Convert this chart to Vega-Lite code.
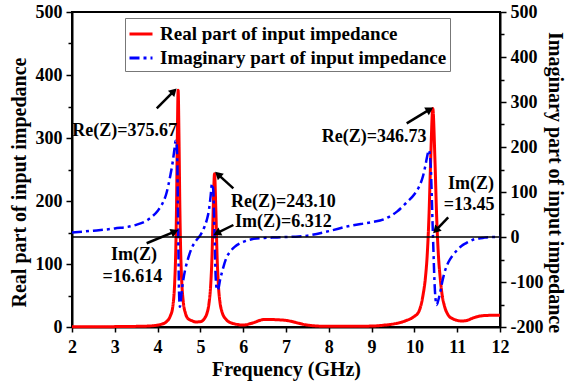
{
  "$schema": "https://vega.github.io/schema/vega-lite/v6.json",
  "width": 428,
  "height": 315,
  "autosize": {"type": "none"},
  "padding": {"left": 72, "top": 12, "right": 66, "bottom": 54},
  "background": "white",
  "config": {
    "view": {"stroke": "black", "strokeWidth": 2},
    "font": "Liberation Serif",
    "axis": {
      "domainColor": "black", "domainWidth": 2, "tickColor": "black", "tickWidth": 1.5,
      "labelFont": "Liberation Serif", "labelFontWeight": "bold", "labelFontSize": 18, "labelColor": "black",
      "titleFont": "Liberation Serif", "titleFontWeight": "bold", "titleFontSize": 20, "titleColor": "black",
      "grid": false, "labelOverlap": false, "labelFlush": false
    }
  },
  "datasets": {
    "z": [
      {"f": 2.0, "re": 0.5, "im": 10},
      {"f": 2.5, "re": 0.5, "im": 14},
      {"f": 3.0, "re": 0.6, "im": 19},
      {"f": 3.5, "re": 1, "im": 27},
      {"f": 3.8, "re": 1.6, "im": 40},
      {"f": 4.0, "re": 3, "im": 58},
      {"f": 4.1, "re": 4.6, "im": 72},
      {"f": 4.2, "re": 8, "im": 95},
      {"f": 4.3, "re": 18, "im": 138},
      {"f": 4.35, "re": 30, "im": 165},
      {"f": 4.4, "re": 72, "im": 200},
      {"f": 4.42, "re": 110, "im": 214},
      {"f": 4.44, "re": 180, "im": 210},
      {"f": 4.46, "re": 295, "im": 170},
      {"f": 4.48, "re": 375.67, "im": 16.614},
      {"f": 4.5, "re": 300, "im": -120},
      {"f": 4.52, "re": 190, "im": -155},
      {"f": 4.54, "re": 118, "im": -145},
      {"f": 4.56, "re": 78, "im": -125},
      {"f": 4.6, "re": 40, "im": -95},
      {"f": 4.65, "re": 22, "im": -70},
      {"f": 4.7, "re": 14, "im": -52},
      {"f": 4.8, "re": 10, "im": -24},
      {"f": 4.9, "re": 8, "im": -8},
      {"f": 5.0, "re": 8.5, "im": 4},
      {"f": 5.1, "re": 14, "im": 24},
      {"f": 5.15, "re": 21, "im": 38},
      {"f": 5.2, "re": 37, "im": 60},
      {"f": 5.24, "re": 66, "im": 92},
      {"f": 5.27, "re": 110, "im": 118},
      {"f": 5.3, "re": 188, "im": 105},
      {"f": 5.33, "re": 243.1, "im": 6.312},
      {"f": 5.36, "re": 188, "im": -95},
      {"f": 5.39, "re": 112, "im": -118},
      {"f": 5.42, "re": 67, "im": -115},
      {"f": 5.46, "re": 38, "im": -95},
      {"f": 5.5, "re": 25, "im": -80},
      {"f": 5.6, "re": 12, "im": -48},
      {"f": 5.7, "re": 7, "im": -32},
      {"f": 5.8, "re": 5, "im": -22},
      {"f": 6.0, "re": 3, "im": -11},
      {"f": 6.2, "re": 6, "im": -5},
      {"f": 6.5, "re": 12, "im": -2},
      {"f": 6.8, "re": 11.5, "im": -1},
      {"f": 7.0, "re": 10.5, "im": 0},
      {"f": 7.3, "re": 6, "im": 1},
      {"f": 7.5, "re": 3, "im": 3},
      {"f": 8.0, "re": 1, "im": 13},
      {"f": 8.5, "re": 1, "im": 25},
      {"f": 9.0, "re": 1.5, "im": 33},
      {"f": 9.3, "re": 3, "im": 40},
      {"f": 9.6, "re": 6, "im": 57},
      {"f": 9.8, "re": 10, "im": 75},
      {"f": 10.0, "re": 17, "im": 95},
      {"f": 10.1, "re": 24, "im": 110},
      {"f": 10.2, "re": 50, "im": 135},
      {"f": 10.26, "re": 80, "im": 160},
      {"f": 10.3, "re": 115, "im": 180},
      {"f": 10.34, "re": 175, "im": 193},
      {"f": 10.38, "re": 265, "im": 160},
      {"f": 10.43, "re": 346.73, "im": 13.45},
      {"f": 10.48, "re": 265, "im": -120},
      {"f": 10.52, "re": 175, "im": -151},
      {"f": 10.56, "re": 115, "im": -140},
      {"f": 10.6, "re": 80, "im": -124},
      {"f": 10.65, "re": 50, "im": -100},
      {"f": 10.7, "re": 34, "im": -80},
      {"f": 10.8, "re": 18, "im": -55},
      {"f": 10.9, "re": 13, "im": -40},
      {"f": 11.0, "re": 10.5, "im": -29},
      {"f": 11.1, "re": 9.5, "im": -20},
      {"f": 11.2, "re": 10, "im": -14},
      {"f": 11.4, "re": 15, "im": -5},
      {"f": 11.6, "re": 18, "im": -2},
      {"f": 11.8, "re": 18.5, "im": 0},
      {"f": 12.0, "re": 18.5, "im": 0}
    ],
    "arrows": [
      {"x1": 3.98, "y1": 347, "x2": 4.38, "y2": 374.4, "ang": 45},
      {"x1": 5.77, "y1": 220, "x2": 5.41, "y2": 242.2, "ang": 312},
      {"x1": 5.77, "y1": 161.9, "x2": 5.386, "y2": 148.9, "ang": 243.4},
      {"x1": 3.745, "y1": 132.9, "x2": 4.40, "y2": 151.4, "ang": 67.2},
      {"x1": 9.82, "y1": 323.3, "x2": 10.36, "y2": 345.4, "ang": 59},
      {"x1": 10.79, "y1": 174, "x2": 10.50, "y2": 153.3, "ang": 223.2}
    ],
    "notes": [
      {"tx": 3.23, "ty": 311.9, "t": "Re(Z)=375.67"},
      {"tx": 6.94, "ty": 198.4, "t": "Re(Z)=243.10"},
      {"tx": 6.94, "ty": 165.9, "t": "Im(Z)=6.312"},
      {"tx": 3.45, "ty": 115, "t": "Im(Z)"},
      {"tx": 3.41, "ty": 78.6, "t": "=16.614"},
      {"tx": 9.06, "ty": 302, "t": "Re(Z)=346.73"},
      {"tx": 11.32, "ty": 227, "t": "Im(Z)"},
      {"tx": 11.28, "ty": 193.7, "t": "=13.45"}
    ],
    "zero": [{"v": 0}]
  },
  "layer": [
    {
      "data": {"name": "z"},
      "mark": {"type": "line", "strokeWidth": 3, "interpolate": "monotone"},
      "encoding": {
        "x": {"field": "f", "type": "quantitative", "scale": {"domain": [2, 12], "nice": false},
          "axis": {"title": "Frequency (GHz)", "values": [2, 2.5, 3, 3.5, 4, 4.5, 5, 5.5, 6, 6.5, 7, 7.5, 8, 8.5, 9, 9.5, 10, 10.5, 11, 11.5, 12],
            "labelExpr": "datum.value % 1 === 0 ? '' + datum.value : ''",
            "tickSize": {"condition": {"test": "datum.value % 1 !== 0", "value": 3}, "value": 5},
            "labelBaseline": "alphabetic", "labelPadding": 20,
            "titleBaseline": "alphabetic", "titleY": 48}},
        "y": {"field": "re", "type": "quantitative", "scale": {"domain": [0, 500], "nice": false},
          "axis": {"title": "Real part of input impedance", "values": [0, 50, 100, 150, 200, 250, 300, 350, 400, 450, 500],
            "labelExpr": "datum.value % 100 === 0 ? '' + datum.value : ''",
            "tickSize": {"condition": {"test": "datum.value % 100 !== 0", "value": 4}, "value": 6},
            "labelPadding": 4, "titleBaseline": "alphabetic", "titleX": -47, "titleY": 170}},
        "color": {"datum": "Real part of input impedance",
          "scale": {"domain": ["Real part of input impedance", "Imaginary part of input impedance"], "range": ["#ff0000", "#0000ff"]},
          "legend": {"orient": "none", "legendX": 53, "legendY": 6, "title": null, "symbolType": "stroke", "symbolSize": 529,
            "symbolStrokeWidth": 3, "labelFontSize": 19, "labelFont": "Liberation Serif", "labelFontWeight": "bold", "labelColor": "black",
            "strokeColor": "#777777", "fillColor": "white", "padding": 3, "rowPadding": 1, "labelOffset": 6, "labelLimit": 0}},
        "strokeDash": {"datum": "Real part of input impedance",
          "scale": {"domain": ["Real part of input impedance", "Imaginary part of input impedance"], "range": [[1, 0], [10, 4, 3, 4]]},
          "legend": {"orient": "none", "legendX": 53, "legendY": 6, "title": null}}
      }
    },
    {
      "data": {"name": "z"},
      "mark": {"type": "line", "strokeWidth": 2.5, "interpolate": "monotone"},
      "encoding": {
        "x": {"field": "f", "type": "quantitative"},
        "y": {"field": "im", "type": "quantitative", "scale": {"domain": [-200, 500], "nice": false},
          "axis": {"orient": "right", "title": "Imaginary part of input impedance",
            "values": [-200, -150, -100, -50, 0, 50, 100, 150, 200, 250, 300, 350, 400, 450, 500],
            "labelExpr": "datum.value % 100 === 0 ? '' + datum.value : ''",
            "tickSize": {"condition": {"test": "datum.value % 100 !== 0", "value": 4}, "value": 6},
            "labelPadding": 4, "titleBaseline": "alphabetic", "titleX": 48, "titleY": 170}},
        "color": {"datum": "Imaginary part of input impedance"},
        "strokeDash": {"datum": "Imaginary part of input impedance"}
      }
    },
    {
      "data": {"name": "zero"},
      "mark": {"type": "rule", "color": "black", "strokeWidth": 1.5},
      "encoding": {"y": {"field": "v", "type": "quantitative", "scale": {"domain": [-200, 500], "nice": false}, "axis": null}}
    },
    {
      "data": {"name": "arrows"},
      "mark": {"type": "rule", "color": "black", "strokeWidth": 2.5},
      "encoding": {
        "x": {"field": "x1", "type": "quantitative"},
        "y": {"field": "y1", "type": "quantitative", "scale": {"domain": [0, 500], "nice": false}, "axis": null},
        "x2": {"field": "x2"},
        "y2": {"field": "y2"}
      }
    },
    {
      "data": {"name": "arrows"},
      "mark": {"type": "point", "shape": "triangle-up", "filled": true, "color": "black", "size": 80, "opacity": 1},
      "encoding": {
        "x": {"field": "x2", "type": "quantitative"},
        "y": {"field": "y2", "type": "quantitative", "scale": {"domain": [0, 500], "nice": false}, "axis": null},
        "angle": {"field": "ang", "type": "quantitative", "scale": null}
      }
    },
    {
      "data": {"name": "notes"},
      "mark": {"type": "text", "font": "Liberation Serif", "fontWeight": "bold", "fontSize": 18, "color": "black", "align": "center", "baseline": "middle"},
      "encoding": {
        "x": {"field": "tx", "type": "quantitative"},
        "y": {"field": "ty", "type": "quantitative", "scale": {"domain": [0, 500], "nice": false}, "axis": null},
        "text": {"field": "t"}
      }
    }
  ],
  "resolve": {"scale": {"y": "independent"}}
}
